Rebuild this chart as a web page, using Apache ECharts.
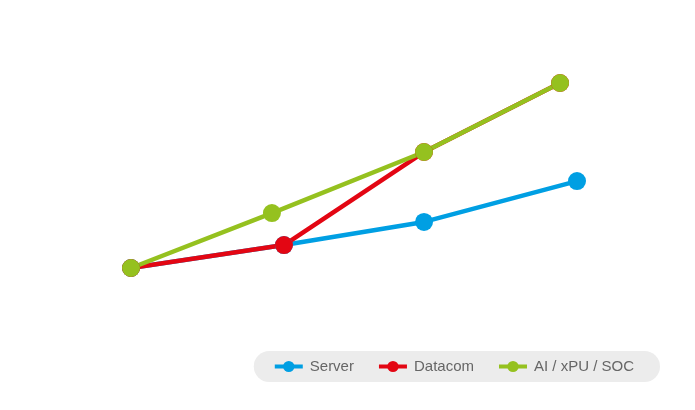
<!DOCTYPE html>
<html>
<head>
<meta charset="utf-8">
<script src="https://cdn.jsdelivr.net/npm/echarts@6/dist/echarts.min.js"></script>
<style>
  html, body { margin: 0; padding: 0; background: #fff; }
  #chart { width: 695px; height: 410px; }
</style>
</head>
<body>
<div id="chart"></div>
<script>
var seriesNames = ['Server', 'Datacom', 'AI / xPU / SOC'];
var seriesColors = ['#009fe3', '#e30613', '#95c11f'];

// [x, y] pairs (axes are hidden)
var serverData = [[0, 0], [3.43, 1.24], [6.57, 2.49], [10, 4.7]];
var datacomData = [[0, 0], [3.43, 1.24], [6.57, 6.27], [9.62, 10]];
var aiData = [[0, 0], [3.16, 2.97], [6.57, 6.27], [9.62, 10]];

var allData = [serverData, datacomData, aiData];

var chart = echarts.init(document.getElementById('chart'), null, { renderer: 'canvas' });

chart.setOption({
  animation: false,
  grid: {
    left: 131,
    right: 118,
    top: 83,
    bottom: 142
  },
  legend: {
    right: 35,
    bottom: 28,
    padding: [8, 26, 8, 19],
    itemGap: 23,
    itemWidth: 28,
    itemHeight: 14,
    backgroundColor: '#ececec',
    borderRadius: 16,
    lineStyle: { width: 4 },
    itemStyle: { borderWidth: 0 },
    textStyle: {
      color: '#666',
      fontSize: 15,
      padding: [0, 0, 0, 2],
      fontFamily: 'Arial, Liberation Sans, sans-serif'
    },
    data: seriesNames
  },
  xAxis: {
    type: 'value',
    min: 0,
    max: 10,
    show: false
  },
  yAxis: {
    type: 'value',
    min: 0,
    max: 10,
    show: false
  },
  series: seriesNames.map(function (name, i) {
    return {
      name: name,
      type: 'line',
      data: allData[i],
      symbol: 'circle',
      symbolSize: 18,
      color: seriesColors[i],
      lineStyle: {
        color: seriesColors[i],
        width: 4.5
      },
      itemStyle: {
        color: seriesColors[i],
        borderColor: seriesColors[i],
        borderWidth: 0
      }
    };
  })
});
</script>
</body>
</html>
